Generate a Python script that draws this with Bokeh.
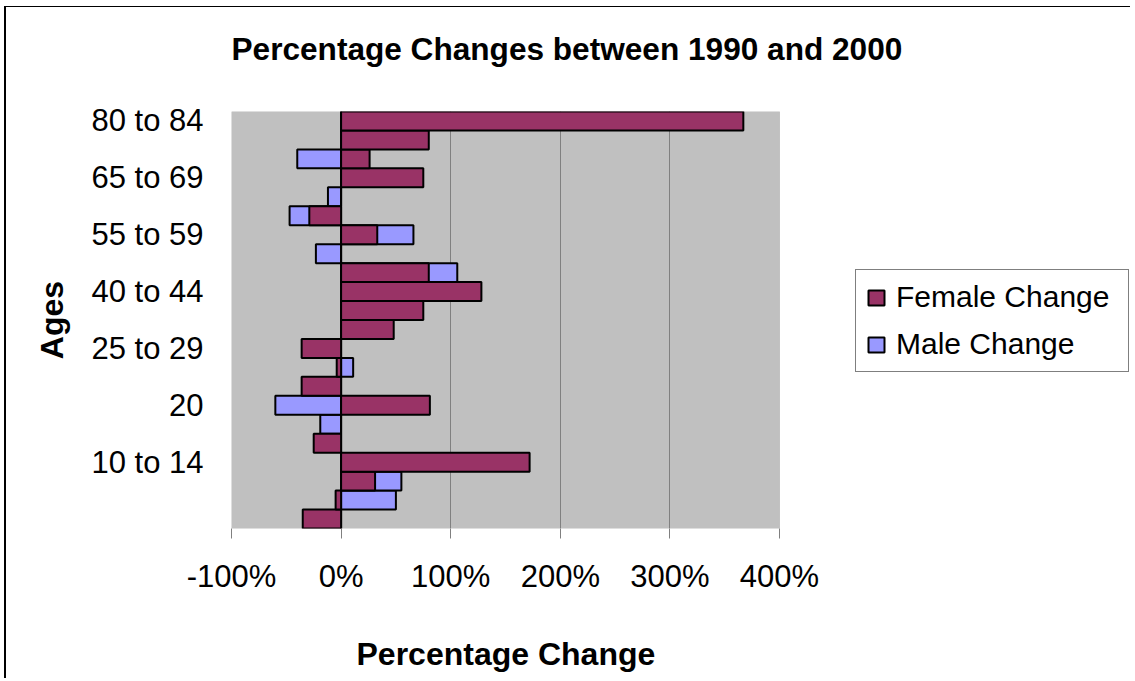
from bokeh.plotting import figure
from bokeh.models import (Range1d, FixedTicker, PrintfTickFormatter, Legend,
                          LegendItem, ColumnDataSource, Title, BoxAnnotation)
from bokeh.embed import file_html
from bokeh.resources import INLINE

# Categories, bottom to top (Excel category order)
ages = ["", "Under 5", "5 to 9", "10 to 14", "15 to 17", "18 and 19", "20", "21",
        "22 to 24", "25 to 29", "30 to 34", "35 to 39", "40 to 44", "45 to 49",
        "50 to 54", "55 to 59", "60 and 61", "62 to 64", "65 to 69", "70 to 74",
        "75 to 79", "80 to 84"]

# Percentage change 1990 -> 2000
female_change = [-35, -5, 31, 172, -25, 0, 81, -36, -4, -36, 48, 75, 128, 80,
                 0, 33, -29, 0, 75, 26, 80, 367]
male_change = [0, 50, 55, 0, 0, -19, -60, 0, 11, 0, 0, 0, 0, 106,
               -23, 66, -47, -12, 0, -40, 0, 0]

series_names = ["Female Change", "Male Change"]
series_colors = ["#993366", "#9999FF"]

x_min, x_max = -100, 400
x_ticks = [-100, 0, 100, 200, 300, 400]
grid_ticks = [0, 100, 200, 300]
label_every = 3

FONT = "Liberation Sans"

# layout (pixels)
W, H = 1130, 678
PLOT_L, PLOT_R, PLOT_T, PLOT_B = 231, 779, 111, 528
FRAME_R = 1129  # frame reaches the legend; the value axis area ends at PLOT_R
px_per_unit = (PLOT_R - PLOT_L) / (x_max - x_min)
x_view_end = x_min + (FRAME_R - PLOT_L) / px_per_unit

src = ColumnDataSource(dict(
    y=list(range(len(ages))),
    age=ages,
    female=female_change,
    male=male_change,
))

p = figure(width=W, height=H, output_backend="svg", toolbar_location=None,
           title=None,
           x_range=Range1d(x_min, x_view_end),
           y_range=Range1d(-0.5, len(ages) - 0.5),
           min_border_left=PLOT_L, min_border_right=W - FRAME_R,
           min_border_top=PLOT_T, min_border_bottom=H - PLOT_B)

# chart-area frame lines (left and top), drawn behind a transparent border area
p.border_fill_color = "white"
p.border_fill_alpha = 0
p.styles = {
    "background": ("linear-gradient(#000, #000) 4px 6px / 2px 100% no-repeat, "
                   "linear-gradient(#000, #000) 4px 6px / 100% 1px no-repeat, "
                   "#ffffff"),
}

# spacer (inner) + real title (outer)
p.add_layout(Title(text=" ", text_font_size="10px", standoff=32), "above")
p.add_layout(Title(text="Percentage Changes between 1990 and 2000",
                   text_font=FONT, text_font_size="31.6px", text_font_style="bold",
                   text_color="black", align="left", offset=0, standoff=0,
                   vertical_align="bottom"), "above")

p.background_fill_color = "white"
p.outline_line_color = None

# grey plot area of the value axis
p.add_layout(BoxAnnotation(left=x_min, right=x_max, bottom=-0.5, top=len(ages) - 0.5,
                           fill_color="#C0C0C0", fill_alpha=1,
                           line_color="#808080", line_width=1, level="image"))

male_r = p.hbar(y="y", left=0, right="male", height=1, source=src,
                fill_color=series_colors[1], line_color="black", line_width=2)
female_r = p.hbar(y="y", left=0, right="female", height=1, source=src,
                  fill_color=series_colors[0], line_color="black", line_width=2)

# grid
p.ygrid.grid_line_color = None
p.xgrid.grid_line_color = "#808080"
p.xgrid.grid_line_width = 1
p.xgrid.ticker = FixedTicker(ticks=grid_ticks)

# x axis
xa = p.xaxis[0]
xa.ticker = FixedTicker(ticks=x_ticks)
xa.formatter = PrintfTickFormatter(format="%d%%")
xa.major_label_text_font = FONT
xa.major_label_text_font_size = "31px"
xa.major_label_text_color = "black"
xa.major_label_standoff = 20
xa.axis_line_color = None
xa.major_tick_line_color = "#808080"
xa.major_tick_out = 10
xa.major_tick_in = 0
xa.minor_tick_line_color = None

# x axis title (centred under the value axis)
p.add_layout(Title(text=" ", text_font_size="10px", standoff=26), "below")
p.add_layout(Title(text="Percentage Change", text_font=FONT, text_font_size="32px",
                   text_font_style="bold", text_color="black", align="left",
                   offset=125, standoff=0, vertical_align="top"), "below")

# y axis
ya = p.yaxis[0]
tick_idx = list(range(0, len(ages), label_every))
ya.ticker = FixedTicker(ticks=tick_idx)
ya.major_label_overrides = {i: ages[i] for i in tick_idx}
ya.axis_label = "Ages"
ya.axis_label_text_font = FONT
ya.axis_label_text_font_size = "32px"
ya.axis_label_text_font_style = "bold"
ya.axis_label_text_color = "black"
ya.axis_label_standoff = 18
ya.major_label_text_font = FONT
ya.major_label_text_font_size = "31px"
ya.major_label_text_color = "black"
ya.major_label_standoff = 28
ya.axis_line_color = None
ya.major_tick_out = 0
ya.major_tick_in = 0
ya.major_tick_line_color = None
ya.minor_tick_line_color = None

legend = Legend(items=[LegendItem(label=series_names[0], renderers=[female_r]),
                       LegendItem(label=series_names[1], renderers=[male_r])],
                location=(855 - PLOT_L, PLOT_B - 372))
legend.label_text_font = FONT
legend.label_text_font_size = "30px"
legend.label_text_color = "black"
legend.label_height = 34
legend.label_width = 222
legend.glyph_width = 20
legend.glyph_height = 19
legend.label_standoff = 10
legend.spacing = 13
legend.padding = 10
legend.margin = 0
legend.border_line_color = "black"
legend.border_line_width = 1
legend.background_fill_color = "white"
legend.background_fill_alpha = 1
p.add_layout(legend, "center")

open("out.html", "w").write(file_html(p, INLINE))
